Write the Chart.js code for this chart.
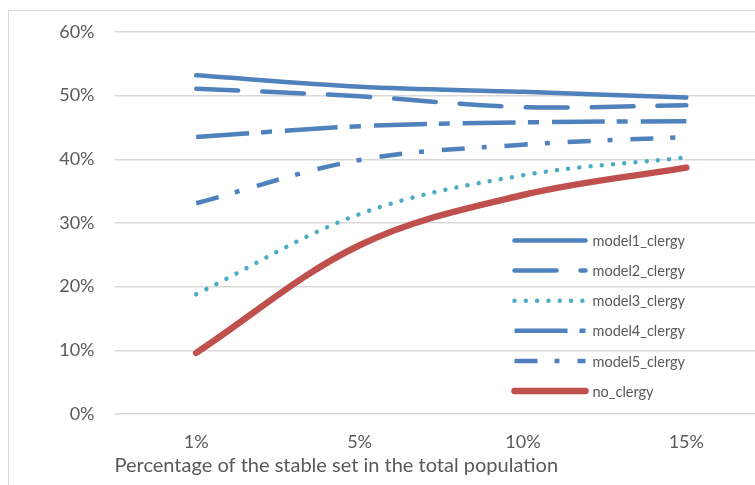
<!DOCTYPE html>
<html>
<head>
<meta charset="utf-8">
<script src="https://cdn.jsdelivr.net/npm/chart.js@4.4.1/dist/chart.umd.min.js"></script>
<style>
  html, body { margin: 0; padding: 0; background: #fff; overflow: hidden; width: 755px; height: 485px; }
  #frame { position: absolute; left: 8px; top: 10px; width: 790px; height: 490px; border: 1px solid #d9d9d9; box-sizing: border-box; }
  #wrap { position: absolute; left: 0; top: 0; width: 780px; height: 474px; }
</style>
</head>
<body>
<div id="frame"><div id="wrap"><canvas id="c"></canvas></div></div>
<script>
// Share of the stable set in the total population
const categories = ['1%', '5%', '10%', '15%'];

const model1 = [0.532, 0.514, 0.506, 0.497];
const model2 = [0.511, 0.499, 0.482, 0.485];
const model3 = [0.188, 0.314, 0.375, 0.403];
const model4 = [0.435, 0.452, 0.458, 0.460];
const model5 = [0.331, 0.399, 0.423, 0.435];
const noClergy = [0.096, 0.265, 0.344, 0.387];

const seriesNames = ['model1_clergy', 'model2_clergy', 'model3_clergy', 'model4_clergy', 'model5_clergy', 'no_clergy'];

const BLUE = '#4F81BD', TEAL = '#4BACC6', RED = '#C0504D', TEXT = '#595959', GRID = '#d9d9d9';
const FONT = 'Lato, "Liberation Sans", sans-serif';

function ds(label, data, color, width, dash, cap) {
  return {
    label, data,
    borderColor: color, backgroundColor: color,
    borderWidth: width, borderDash: dash, borderCapStyle: cap,
    borderJoinStyle: 'round',
    pointRadius: 0, pointHoverRadius: 0,
    tension: 0.35, fill: false
  };
}

const datasets = [
  ds(seriesNames[0], model1, BLUE, 4.5, [], 'round'),
  ds(seriesNames[1], model2, BLUE, 4.5, [42, 24], 'round'),
  ds(seriesNames[2], model3, TEAL, 4.5, [0.01, 11.3], 'round'),
  ds(seriesNames[3], model4, BLUE, 4.5, [53, 12, 11, 13], 'butt'),
  ds(seriesNames[4], model5, BLUE, 4.5, [23, 17, 5, 18], 'butt'),
  ds(seriesNames[5], noClergy, RED, 6.5, [], 'round')
];

// Legend drawn inside the plot, one row per series with its own line sample
const insideLegend = {
  id: 'insideLegend',
  afterDatasetsDraw(chart) {
    const ctx = chart.ctx;
    const a = chart.chartArea;
    const x0 = a.left + 400, x1 = x0 + 71, tx = x1 + 7;
    const y0 = a.top + 208.5, step = 30.1;
    ctx.save();
    chart.data.datasets.forEach((d, i) => {
      const y = y0 + i * step;
      ctx.beginPath();
      ctx.strokeStyle = d.borderColor;
      ctx.lineWidth = d.borderWidth;
      ctx.lineCap = d.borderCapStyle;
      ctx.setLineDash(d.borderDash);
      ctx.moveTo(x0, y);
      ctx.lineTo(x1, y);
      ctx.stroke();
      ctx.setLineDash([]);
      ctx.fillStyle = TEXT;
      ctx.font = '14.5px ' + FONT;
      ctx.textBaseline = 'middle';
      ctx.textAlign = 'left';
      ctx.fillText(d.label, tx, y + 1);
    });
    ctx.restore();
  }
};

new Chart(document.getElementById('c'), {
  type: 'line',
  data: { labels: categories, datasets },
  options: {
    responsive: true,
    maintainAspectRatio: false,
    animation: false,
    events: [],
    layout: { padding: { top: 21, right: 21, left: 0, bottom: 0 } },
    plugins: { legend: { display: false }, tooltip: { enabled: false } },
    scales: {
      x: {
        offset: true,
        grid: { display: false, drawTicks: false },
        border: { display: false },
        ticks: { color: TEXT, font: { family: FONT, size: 18 }, padding: 17 },
        title: {
          display: true, align: 'start',
          text: 'Percentage of the stable set in the total population',
          color: TEXT, font: { family: FONT, size: 20 }, padding: { top: 0, bottom: 7 }
        },
        afterFit(scale) { scale.height = 71; }
      },
      y: {
        min: 0, max: 0.6,
        grid: { color: GRID, lineWidth: 1.5, drawTicks: false },
        border: { display: false },
        ticks: {
          stepSize: 0.1, color: TEXT, font: { family: FONT, size: 18 }, padding: 20,
          callback: v => Math.round(v * 100) + '%'
        },
        afterFit(scale) {
          scale.width = 105.5;
          scale.paddingTop = 0;
          scale.paddingBottom = 0;
        }
      }
    }
  },
  plugins: [insideLegend]
});
</script>
</body>
</html>
